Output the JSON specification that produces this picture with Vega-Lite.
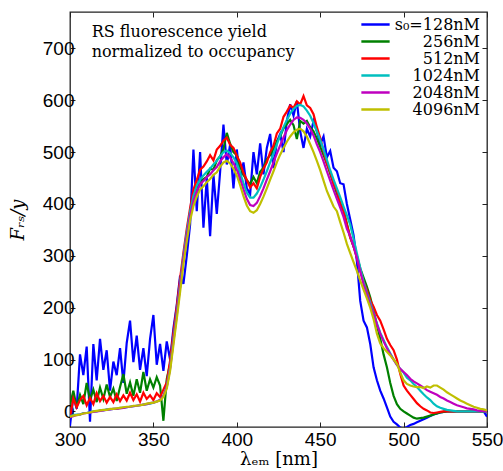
{
"$schema": "https://vega.github.io/schema/vega-lite/v6.json",
"width": 417, "height": 415,
"autosize": "none",
"padding": {"left": 70, "top": 12, "right": 16, "bottom": 44},
"background": "white",
"config": {"view": {"stroke": "#222", "strokeWidth": 1.3}},
"data": {"values": [
{"x":300,"b":-28,"g":12,"r":-12,"c":-9,"m":-11,"y":-10},
{"x":302,"b":30,"g":40,"r":25,"c":-7,"m":-9,"y":-8},
{"x":304,"b":5,"g":8,"r":8,"c":-6,"m":-7,"y":-7},
{"x":306,"b":110,"g":32,"r":22,"c":-6,"m":-6,"y":-6},
{"x":308,"b":70,"g":14,"r":30,"c":-3,"m":-4,"y":-4},
{"x":310,"b":125,"g":55,"r":12,"c":-3,"m":-3,"y":-3},
{"x":312,"b":-20,"g":22,"r":26,"c":-1,"m":-2,"y":-2},
{"x":314,"b":130,"g":42,"r":14,"c":0,"m":-1,"y":0},
{"x":316,"b":60,"g":18,"r":35,"c":0,"m":0,"y":1},
{"x":318,"b":140,"g":46,"r":20,"c":2,"m":1,"y":2},
{"x":320,"b":80,"g":24,"r":30,"c":2,"m":2,"y":3},
{"x":322,"b":118,"g":52,"r":17,"c":4,"m":3,"y":3},
{"x":324,"b":40,"g":28,"r":28,"c":4,"m":4,"y":5},
{"x":326,"b":96,"g":44,"r":18,"c":5,"m":5,"y":5},
{"x":328,"b":70,"g":20,"r":33,"c":5,"m":5,"y":6},
{"x":330,"b":122,"g":47,"r":20,"c":7,"m":6,"y":7},
{"x":332,"b":55,"g":72,"r":31,"c":7,"m":7,"y":8},
{"x":334,"b":132,"g":34,"r":21,"c":8,"m":8,"y":9},
{"x":336,"b":175,"g":56,"r":36,"c":9,"m":9,"y":9},
{"x":338,"b":95,"g":30,"r":22,"c":10,"m":10,"y":11},
{"x":340,"b":146,"g":62,"r":33,"c":11,"m":11,"y":11},
{"x":342,"b":80,"g":36,"r":19,"c":12,"m":12,"y":12},
{"x":344,"b":122,"g":76,"r":36,"c":13,"m":13,"y":13},
{"x":346,"b":68,"g":40,"r":24,"c":14,"m":14,"y":15},
{"x":348,"b":140,"g":62,"r":31,"c":15,"m":16,"y":16},
{"x":350,"b":186,"g":46,"r":22,"c":17,"m":17,"y":17},
{"x":352,"b":90,"g":66,"r":35,"c":19,"m":19,"y":19},
{"x":354,"b":130,"g":50,"r":28,"c":22,"m":22,"y":21},
{"x":356,"b":78,"g":-18,"r":42,"c":30,"m":30,"y":28},
{"x":358,"b":135,"g":62,"r":56,"c":48,"m":47,"y":44},
{"x":360,"b":100,"g":92,"r":98,"c":85,"m":82,"y":78},
{"x":362,"b":160,"g":142,"r":152,"c":140,"m":135,"y":128},
{"x":364,"b":205,"g":192,"r":202,"c":190,"m":185,"y":178},
{"x":366,"b":262,"g":240,"r":256,"c":245,"m":240,"y":230},
{"x":368,"b":246,"g":296,"r":306,"c":300,"m":294,"y":284},
{"x":370,"b":300,"g":338,"r":352,"c":345,"m":338,"y":328},
{"x":372,"b":360,"g":382,"r":392,"c":385,"m":378,"y":368},
{"x":374,"b":505,"g":402,"r":428,"c":415,"m":405,"y":396},
{"x":376,"b":386,"g":432,"r":446,"c":435,"m":424,"y":414},
{"x":378,"b":500,"g":438,"r":466,"c":447,"m":438,"y":428},
{"x":380,"b":354,"g":448,"r":472,"c":455,"m":444,"y":434},
{"x":382,"b":450,"g":452,"r":482,"c":462,"m":452,"y":442},
{"x":384,"b":338,"g":468,"r":494,"c":468,"m":457,"y":448},
{"x":386,"b":456,"g":466,"r":484,"c":476,"m":465,"y":456},
{"x":388,"b":381,"g":484,"r":505,"c":483,"m":471,"y":461},
{"x":390,"b":462,"g":492,"r":512,"c":492,"m":482,"y":472},
{"x":392,"b":553,"g":506,"r":522,"c":500,"m":490,"y":480},
{"x":394,"b":476,"g":537,"r":528,"c":503,"m":496,"y":483},
{"x":396,"b":514,"g":516,"r":514,"c":498,"m":489,"y":478},
{"x":398,"b":430,"g":500,"r":508,"c":490,"m":479,"y":468},
{"x":400,"b":505,"g":494,"r":493,"c":478,"m":466,"y":455},
{"x":402,"b":444,"g":472,"r":480,"c":460,"m":448,"y":436},
{"x":404,"b":480,"g":456,"r":460,"c":440,"m":428,"y":415},
{"x":406,"b":430,"g":446,"r":446,"c":422,"m":410,"y":397},
{"x":408,"b":419,"g":438,"r":432,"c":412,"m":398,"y":386},
{"x":410,"b":500,"g":452,"r":440,"c":412,"m":396,"y":383},
{"x":412,"b":457,"g":440,"r":430,"c":420,"m":402,"y":388},
{"x":414,"b":517,"g":462,"r":452,"c":432,"m":415,"y":400},
{"x":416,"b":457,"g":470,"r":468,"c":447,"m":430,"y":414},
{"x":418,"b":508,"g":486,"r":480,"c":463,"m":447,"y":430},
{"x":420,"b":535,"g":494,"r":500,"c":480,"m":463,"y":447},
{"x":422,"b":469,"g":506,"r":512,"c":497,"m":480,"y":463},
{"x":424,"b":520,"g":520,"r":536,"c":515,"m":497,"y":480},
{"x":426,"b":535,"g":530,"r":545,"c":532,"m":513,"y":495},
{"x":428,"b":500,"g":546,"r":568,"c":548,"m":528,"y":508},
{"x":430,"b":560,"g":554,"r":578,"c":562,"m":542,"y":520},
{"x":432,"b":592,"g":562,"r":590,"c":574,"m":553,"y":530},
{"x":434,"b":570,"g":552,"r":585,"c":583,"m":562,"y":538},
{"x":436,"b":598,"g":525,"r":598,"c":589,"m":567,"y":543},
{"x":438,"b":540,"g":560,"r":592,"c":591,"m":566,"y":545},
{"x":440,"b":508,"g":555,"r":608,"c":588,"m":562,"y":540},
{"x":442,"b":545,"g":560,"r":590,"c":580,"m":555,"y":530},
{"x":444,"b":530,"g":548,"r":585,"c":570,"m":545,"y":515},
{"x":446,"b":560,"g":540,"r":573,"c":556,"m":532,"y":500},
{"x":448,"b":540,"g":526,"r":548,"c":540,"m":515,"y":483},
{"x":450,"b":515,"g":510,"r":527,"c":523,"m":500,"y":465},
{"x":452,"b":530,"g":494,"r":502,"c":505,"m":482,"y":445},
{"x":454,"b":490,"g":478,"r":477,"c":485,"m":463,"y":425},
{"x":456,"b":502,"g":458,"r":462,"c":465,"m":445,"y":410},
{"x":458,"b":470,"g":440,"r":438,"c":447,"m":427,"y":395},
{"x":460,"b":463,"g":420,"r":426,"c":430,"m":410,"y":386},
{"x":462,"b":440,"g":402,"r":400,"c":413,"m":393,"y":365},
{"x":464,"b":438,"g":388,"r":386,"c":395,"m":375,"y":345},
{"x":466,"b":400,"g":362,"r":360,"c":378,"m":352,"y":323},
{"x":468,"b":370,"g":336,"r":335,"c":360,"m":338,"y":305},
{"x":470,"b":340,"g":318,"r":318,"c":333,"m":318,"y":288},
{"x":472,"b":290,"g":300,"r":296,"c":305,"m":296,"y":271},
{"x":474,"b":213,"g":276,"r":272,"c":277,"m":270,"y":252},
{"x":476,"b":175,"g":258,"r":250,"c":250,"m":245,"y":235},
{"x":478,"b":162,"g":240,"r":234,"c":228,"m":225,"y":218},
{"x":480,"b":130,"g":220,"r":215,"c":210,"m":205,"y":200},
{"x":482,"b":85,"g":194,"r":202,"c":190,"m":188,"y":178},
{"x":484,"b":60,"g":166,"r":186,"c":170,"m":168,"y":150},
{"x":486,"b":40,"g":140,"r":175,"c":152,"m":150,"y":131},
{"x":488,"b":25,"g":110,"r":158,"c":138,"m":135,"y":122},
{"x":490,"b":8,"g":85,"r":140,"c":124,"m":122,"y":115},
{"x":492,"b":-10,"g":55,"r":128,"c":112,"m":110,"y":108},
{"x":494,"b":-20,"g":30,"r":118,"c":100,"m":100,"y":100},
{"x":496,"b":-25,"g":14,"r":100,"c":90,"m":90,"y":92},
{"x":498,"b":-31,"g":5,"r":72,"c":82,"m":82,"y":75},
{"x":500,"b":-33,"g":0,"r":50,"c":75,"m":76,"y":60},
{"x":502,"b":-30,"g":-4,"r":40,"c":65,"m":70,"y":53},
{"x":504,"b":-26,"g":-8,"r":32,"c":60,"m":63,"y":50},
{"x":506,"b":-24,"g":-12,"r":24,"c":53,"m":58,"y":48},
{"x":508,"b":-21,"g":-14,"r":16,"c":47,"m":54,"y":47},
{"x":510,"b":-18,"g":-13,"r":10,"c":40,"m":50,"y":47},
{"x":512,"b":-15,"g":-12,"r":5,"c":33,"m":46,"y":45},
{"x":514,"b":-12,"g":-10,"r":2,"c":27,"m":41,"y":48},
{"x":516,"b":-9,"g":-8,"r":-2,"c":22,"m":38,"y":46},
{"x":518,"b":-6,"g":-6,"r":-3,"c":15,"m":35,"y":50},
{"x":520,"b":-4,"g":-4,"r":-2,"c":10,"m":32,"y":50},
{"x":522,"b":-2,"g":-2,"r":-1,"c":7,"m":28,"y":46},
{"x":524,"b":-1,"g":-1,"r":0,"c":5,"m":25,"y":42},
{"x":526,"b":0,"g":0,"r":0,"c":3,"m":21,"y":37},
{"x":528,"b":0,"g":0,"r":0,"c":2,"m":18,"y":33},
{"x":530,"b":0,"g":0,"r":0,"c":1,"m":15,"y":29},
{"x":532,"b":0,"g":0,"r":0,"c":0,"m":12,"y":25},
{"x":534,"b":0,"g":0,"r":0,"c":0,"m":10,"y":21},
{"x":536,"b":0,"g":0,"r":0,"c":0,"m":8,"y":18},
{"x":538,"b":0,"g":0,"r":0,"c":0,"m":6,"y":15},
{"x":540,"b":0,"g":0,"r":0,"c":0,"m":5,"y":12},
{"x":542,"b":0,"g":0,"r":0,"c":0,"m":4,"y":9},
{"x":544,"b":0,"g":0,"r":0,"c":0,"m":2,"y":7},
{"x":546,"b":0,"g":0,"r":0,"c":0,"m":1,"y":5},
{"x":548,"b":0,"g":0,"r":0,"c":0,"m":1,"y":4},
{"x":550,"b":-10,"g":0,"r":0,"c":0,"m":0,"y":2}
]},
"layer": [
{
"transform": [{"fold": ["b","g","r","c","m","y"], "as": ["s","v"]}],
"mark": {"type": "line", "strokeWidth": 2.2, "clip": true},
"encoding": {
"x": {"field": "x", "type": "quantitative",
 "scale": {"domain": [300, 550], "nice": false, "zero": false},
 "axis": {"orient": "bottom", "values": [300,350,400,450,500,550], "title": "λₑₘ  [nm]",
  "titleFont": "DejaVu Serif", "titleFontSize": 18, "titleFontWeight": "normal", "titleColor": "#000", "titlePadding": 1,
  "labelFont": "Liberation Sans", "labelFontSize": 19, "labelColor": "#000", "labelPadding": 8, "labelFlush": false,
  "tickSize": -5, "tickColor": "#222", "domain": false, "grid": false}},
"y": {"field": "v", "type": "quantitative",
 "scale": {"domain": [-30, 770], "nice": false, "zero": false},
 "axis": {"orient": "left", "values": [0,100,200,300,400,500,600,700], "title": "Fᵣₛ/y",
  "titleFont": "DejaVu Serif", "titleFontStyle": "italic", "titleFontSize": 18, "titleFontWeight": "normal", "titleColor": "#000", "titlePadding": 15,
  "labelFont": "Liberation Sans", "labelFontSize": 19, "labelColor": "#000", "labelPadding": 1, "labelFlush": false,
  "tickSize": -5, "tickColor": "#222", "domain": false, "grid": false}},
"color": {"field": "s", "type": "nominal",
 "scale": {"domain": ["b","g","r","c","m","y"], "range": ["#0000ff","#008000","#ff0000","#00bfbf","#bf00bf","#bfbf00"]},
 "legend": {"orient": "none", "legendX": 290, "legendY": 5, "title": null,
  "labelExpr": "{'b':'s₀=128nM','g':'256nM','r':'512nM','c':'1024nM','m':'2048nM','y':'4096nM'}[datum.label]",
  "symbolType": "stroke", "symbolSize": 800, "symbolStrokeWidth": 2.5, "clipHeight": 15,
  "labelFont": "DejaVu Serif", "labelFontSize": 16, "labelColor": "#000", "labelAlign": "right", "labelOffset": 89,
  "rowPadding": 0, "padding": 0}}
}
},
{
"data": {"values": [{"note": "RS fluorescence yield"}]},
"mark": {"type": "text", "align": "left", "baseline": "alphabetic", "font": "DejaVu Serif", "fontSize": 16, "lineHeight": 20, "color": "#000"},
"encoding": {
"x": {"datum": 313, "type": "quantitative", "scale": {"domain": [300, 550], "nice": false, "zero": false},
 "axis": {"orient": "top", "values": [300,350,400,450,500,550], "labels": false, "title": null, "tickSize": -5, "tickColor": "#222", "domain": false, "grid": false}},
"y": {"datum": 721, "type": "quantitative", "scale": {"domain": [-30, 770], "nice": false, "zero": false},
 "axis": {"orient": "right", "values": [0,100,200,300,400,500,600,700], "labels": false, "title": null, "tickSize": -5, "tickColor": "#222", "domain": false, "grid": false}},
"text": {"value": ["RS fluorescence yield", "normalized to occupancy"]}
}
}
],
"resolve": {"axis": {"x": "independent", "y": "independent"}}
}
